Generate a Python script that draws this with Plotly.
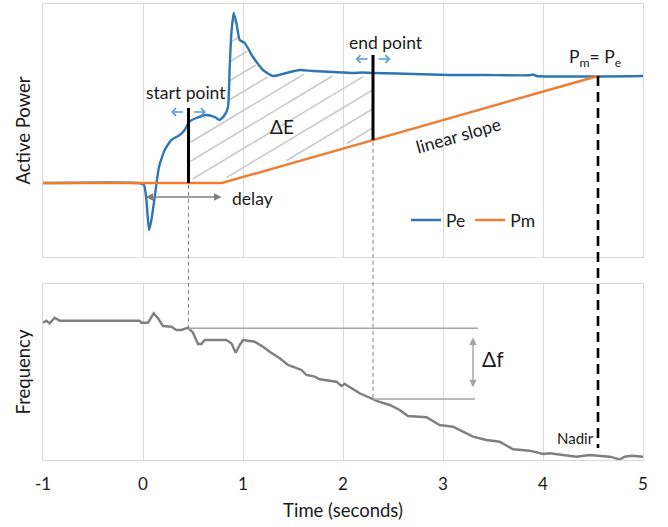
import numpy as np
import plotly.graph_objects as go
from plotly.subplots import make_subplots

# ---------------- data ----------------
pe_t = [-1.0, -0.05, 0.01, 0.034, 0.06, 0.084, 0.117, 0.16, 0.217, 0.284, 0.367, 0.417, 0.46,
        0.534, 0.634, 0.717, 0.767, 0.817, 0.85, 0.867, 0.884, 0.907, 0.934, 0.967, 1.017,
        1.10, 1.20, 1.30, 1.434, 1.567, 1.70, 1.90, 2.10, 2.197, 2.30, 2.537, 2.70, 3.067,
        3.40, 3.867, 3.90, 3.937, 5.0]
pe_v = [74, 74, 72, 57, 27, 37, 60, 90, 107, 117, 122, 127, 135, 139, 142, 140, 137, 142, 150,
        190, 224, 244, 234, 217, 214, 200, 187, 181, 184, 187, 186, 185, 184, 184.5, 184,
        183.5, 183, 182, 182, 181.7, 182.5, 181, 181]

pm_t = [-1.0, 0.79, 4.55]
pm_v = [74, 74, 181]

f_t = [-1.0, -0.966, -0.933, -0.883, -0.833, -0.033, -0.016, 0.05, 0.107, 0.15, 0.20, 0.284,
       0.334, 0.384, 0.45, 0.50, 0.55, 0.584, 0.617, 0.834, 0.884, 0.927, 0.967, 1.0, 1.117,
       1.20, 1.267, 1.367, 1.45, 1.584, 1.634, 1.717, 1.767, 1.867, 1.934, 1.984, 2.017,
       2.167, 2.30, 2.35, 2.467, 2.567, 2.65, 2.834, 2.967, 3.10, 3.20, 3.30, 3.434, 3.567,
       3.70, 3.867, 4.0, 4.067, 4.20, 4.334, 4.467, 4.567, 4.667, 4.767, 4.817, 4.884, 5.0]
f_v = [137.3, 139.3, 136.7, 142.3, 139.3, 139.3, 137.3, 137.3, 146.7, 141.7, 134, 133.3,
       130, 130, 132.3, 127.3, 116, 116, 120, 120, 116.7, 107.3, 115, 120, 118.3, 113.3,
       108.3, 101.7, 95, 90, 85, 83.3, 80.7, 79.3, 78.3, 74, 76, 66.7, 61, 58.5, 55, 50, 44,
       42.7, 35, 33.3, 28.3, 23.3, 20, 18.3, 10.7, 9.3, 6, 6.7, 5, 3.3, 5, 4, 3.3, 0.7, 3.3,
       4.3, 3.3]

x_ticks = [-1, 0, 1, 2, 3, 4, 5]
x_tick_labels = ["-1", "0", "1", "2", "3", "4", "5"]
T_START, T_END, T_EQ = 0.455, 2.30, 4.55
DELAY_END = 0.785
F_REF_END = 3.35
NADIR_F = 12

# ---------------- styling ----------------
FONT = "Lato"
TXT = "#1a1a1a"
BLUE = "#2e75b6"
ORANGE = "#ed7d31"
GREY = "#7f7f7f"
LGREY = "#a6a6a6"
GRID = "#d9d9d9"
P_RANGE = [0, 253]
F_RANGE = [0, 176]
TOP_DOM = [0.4452, 1.0]
BOT_DOM = [0.0, 0.386]
ANN_SIZE = 17.5


def pe_at(t):
    return float(np.interp(t, pe_t, pe_v))


def pm_at(t):
    return float(np.interp(t, pm_t, pm_v))


def f_at(t):
    return float(np.interp(t, f_t, f_v))


def paper_top(v):
    return TOP_DOM[0] + (v - P_RANGE[0]) / (P_RANGE[1] - P_RANGE[0]) * (TOP_DOM[1] - TOP_DOM[0])


def paper_bot(v):
    return BOT_DOM[0] + (v - F_RANGE[0]) / (F_RANGE[1] - F_RANGE[0]) * (BOT_DOM[1] - BOT_DOM[0])


fig = make_subplots(rows=2, cols=1, shared_xaxes=False)

# ---- hatch lines for the energy area (between Pe and Pm) ----
tg = np.linspace(T_START + 0.02, T_END - 0.01, 800)
up = np.interp(tg, pe_t, pe_v) - 4
lo = np.interp(tg, pm_t, pm_v) + 4
slope = 60.0
cmin = float(np.min(lo - slope * tg))
cmax = float(np.max(up - slope * tg))
hx, hy = [], []
for c in np.arange(cmin + 8, cmax, 19.0):
    line = c + slope * tg
    inside = (line > lo) & (line < up)
    seg = False
    for i in range(len(tg)):
        if inside[i]:
            hx.append(tg[i]); hy.append(line[i]); seg = True
        elif seg:
            hx.append(None); hy.append(None); seg = False
    if seg:
        hx.append(None); hy.append(None)
fig.add_trace(go.Scatter(x=hx, y=hy, mode="lines", line=dict(color="#c9c9c9", width=1.6),
                         showlegend=False, hoverinfo="skip"), row=1, col=1)

fig.add_trace(go.Scatter(x=pe_t, y=pe_v, mode="lines", name="Pe",
                         line=dict(color=BLUE, width=2.4, shape="spline", smoothing=0.5)),
              row=1, col=1)
fig.add_trace(go.Scatter(x=pm_t, y=pm_v, mode="lines", name="Pm",
                         line=dict(color=ORANGE, width=2.4)), row=1, col=1)
fig.add_trace(go.Scatter(x=f_t, y=f_v, mode="lines", showlegend=False,
                         line=dict(color=GREY, width=2.4)), row=2, col=1)

# ---- shapes ----
shapes = []
top_s = pe_at(T_START) + 15
top_e = pe_at(T_END) + 18
shapes.append(dict(type="line", xref="x", yref="y", x0=T_START, x1=T_START,
                   y0=pm_at(T_START), y1=top_s, line=dict(color="black", width=3)))
shapes.append(dict(type="line", xref="x", yref="y", x0=T_END, x1=T_END,
                   y0=pm_at(T_END), y1=top_e, line=dict(color="black", width=3)))
for t in (T_START, T_END):
    shapes.append(dict(type="line", xref="x", yref="paper", x0=t, x1=t,
                       y0=paper_top(pm_at(t)) - 0.004, y1=paper_bot(f_at(t)),
                       line=dict(color=GREY, width=1, dash="4px,3px")))
shapes.append(dict(type="line", xref="x", yref="paper", x0=T_EQ, x1=T_EQ,
                   y0=paper_top(pm_at(T_EQ)), y1=paper_bot(NADIR_F),
                   line=dict(color="black", width=2.6, dash="10px,6px")))
shapes.append(dict(type="line", xref="x2", yref="y2", x0=T_START, x1=F_REF_END,
                   y0=f_at(T_START), y1=f_at(T_START), line=dict(color=LGREY, width=1.6)))
shapes.append(dict(type="line", xref="x2", yref="y2", x0=T_END, x1=F_REF_END - 0.03,
                   y0=f_at(T_END), y1=f_at(T_END), line=dict(color=LGREY, width=1.6)))

# ---- annotations ----
ann = []
def txt(x, y, s, size=ANN_SIZE, xref="x", yref="y", **kw):
    d = dict(x=x, y=y, text=s, xref=xref, yref=yref, showarrow=False,
             font=dict(family=FONT, size=size, color=TXT))
    d.update(kw)
    ann.append(d)

def arrow(x, y, ax, ay, color, xref="x", yref="y", width=1.5, head=4, both=False, size=1.0):
    d = dict(x=x, y=y, ax=ax, ay=ay, xref=xref, yref=yref, axref=xref, ayref=yref,
             text="", showarrow=True, arrowcolor=color, arrowwidth=width,
             arrowhead=head, arrowsize=size)
    if both:
        d.update(arrowside="end+start", startarrowhead=head, startarrowsize=size)
    ann.append(d)

# blue shift arrows
for t, top in ((T_START, top_s), (T_END, top_e)):
    yy = top - 4
    arrow(t - 0.175, yy, t - 0.04, yy, "#5b9bd5")
    arrow(t + 0.175, yy, t + 0.04, yy, "#5b9bd5")

txt(T_START - 0.03, top_s + 15, "start point")
txt(T_END + 0.125, top_e + 13, "end point")
txt(1.394, 130, "ΔE", size=19)
arrow(DELAY_END, 60, 0.01, 60, GREY, both=True, width=1.5, head=2, size=1.0)
txt(1.094, 58, "delay")
txt(3.157, 121, "linear slope", textangle=-16)
txt(T_EQ - 0.035, 199, "P<sub>m</sub>= P<sub>e</sub>")
txt(T_EQ - 0.02, 22, "Nadir", size=15, xref="x2", yref="y2", xanchor="right")
arrow(3.30, 72.7, 3.30, 124, LGREY, xref="x2", yref="y2", both=True, width=1.5, head=2)
txt(3.365, 101, "Δf", size=21, xref="x2", yref="y2", xanchor="left")

fig.update_layout(
    width=668, height=527,
    margin=dict(l=43, r=25, t=4, b=67),
    paper_bgcolor="white", plot_bgcolor="white",
    font=dict(family=FONT, size=17, color=TXT),
    shapes=shapes, annotations=ann,
    showlegend=True,
    legend=dict(orientation="h", x=0.605, y=0.526, xanchor="left", yanchor="middle",
                bgcolor="rgba(0,0,0,0)", font=dict(family=FONT, size=ANN_SIZE, color=TXT),
                itemwidth=30),
)
axis_common = dict(range=[-1, 5], tickvals=x_ticks, ticktext=x_tick_labels, showgrid=True,
                   gridcolor=GRID, gridwidth=1, zeroline=False, showline=True, linecolor=GRID,
                   linewidth=1, mirror=True, ticks="")
fig.update_xaxes(**axis_common, domain=[0, 1])
fig.update_xaxes(showticklabels=False, row=1, col=1)
fig.update_xaxes(showticklabels=True, tickfont=dict(family=FONT, size=17, color=TXT),
                 ticklabelstandoff=9,
                 title=dict(text="Time (seconds)", font=dict(family=FONT, size=18.5, color=TXT),
                            standoff=10), row=2, col=1)
yax_common = dict(showticklabels=False, showgrid=False, zeroline=False, showline=True,
                  linecolor=GRID, linewidth=1, mirror=True, ticks="")
fig.update_yaxes(**yax_common, range=P_RANGE, domain=TOP_DOM,
                 title=dict(text="Active Power", font=dict(family=FONT, size=18.5, color=TXT),
                            standoff=6), row=1, col=1)
fig.update_yaxes(**yax_common, range=F_RANGE, domain=BOT_DOM,
                 title=dict(text="Frequency", font=dict(family=FONT, size=18.5, color=TXT),
                            standoff=6), row=2, col=1)

fig.write_html("out.html")
